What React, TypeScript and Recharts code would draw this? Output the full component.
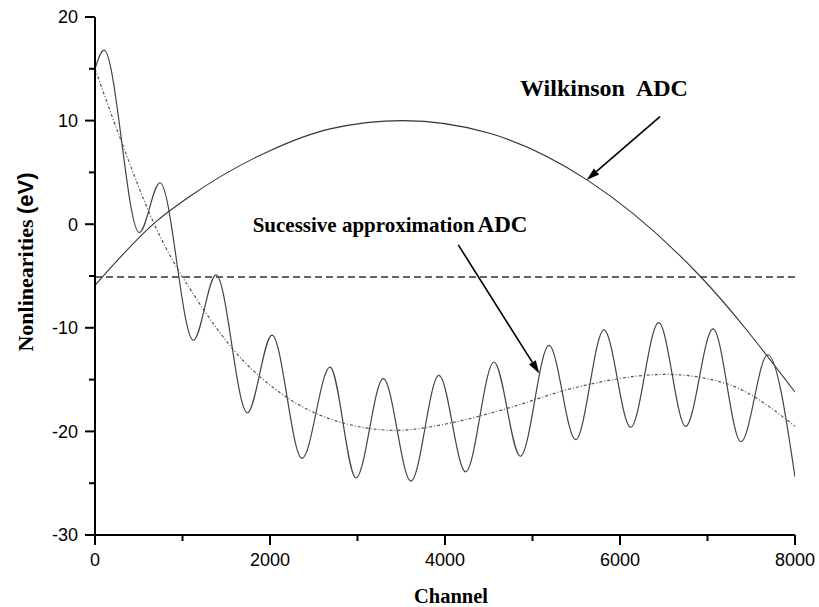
import { LineChart, Line, XAxis, YAxis, ReferenceLine, ReferenceDot } from "recharts";

// Oscillating successive-approximation ADC curve (read at its peaks and troughs)
const oscChannel = [0, 103, 506, 743, 1124, 1383, 1741, 2023, 2366, 2686, 2983, 3295, 3611, 3931, 4236, 4560, 4861, 5189, 5493, 5817, 6122, 6442, 6751, 7063, 7383, 7688, 8000];
const oscValue = [15.0, 16.8, -0.8, 4.0, -11.2, -4.9, -18.2, -10.7, -22.6, -13.8, -24.5, -14.9, -24.8, -14.6, -23.9, -13.3, -22.4, -11.7, -20.8, -10.2, -19.6, -9.5, -19.5, -10.1, -21.0, -12.6, -24.4];

// Dotted trend of the successive approximation ADC
const trendChannel = [0, 305, 667, 1238, 1581, 2190, 2686, 3448, 4057, 4743, 5429, 6533, 7219, 8000];
const trendValue = [15.0, 7.9, 0.2, -8.2, -12.1, -16.7, -18.8, -19.9, -19.2, -17.7, -15.9, -14.5, -15.4, -19.5];

// Wilkinson ADC
const wilkChannel = [0, 705, 1086, 2000, 2686, 3520, 4500, 5619, 6914, 8000];
const wilkValue = [-5.9, 0.3, 2.7, 7.1, 9.2, 10.0, 8.8, 4.3, -5.0, -16.2];

// Dashed level
const levelChannel = [0, 8000];
const levelValue = [-5.1, -5.1];

const xTicks = [0, 1000, 2000, 3000, 4000, 5000, 6000, 7000, 8000];
const yTicks = [-30, -25, -20, -15, -10, -5, 0, 5, 10, 15, 20];

const toPoints = (xs: number[], ys: number[]) => xs.map((x, i) => ({ x, y: ys[i] }));

const oscData = toPoints(oscChannel, oscValue);
const trendData = toPoints(trendChannel, trendValue);
const wilkData = toPoints(wilkChannel, wilkValue);
const levelData = toPoints(levelChannel, levelValue);

const sans = "'Liberation Sans', Arial, sans-serif";
const serif = "'Liberation Serif', 'Times New Roman', serif";

const YTick = ({ x, y, payload }: any) => {
  const major = payload.value % 10 === 0;
  return (
    <g>
      <line x1={x} x2={x - (major ? 10 : 6)} y1={y} y2={y} stroke="#000" strokeWidth={2} />
      {major && (
        <text x={x - 17} y={y} dy="0.36em" textAnchor="end" fontFamily={sans} fontSize={18} fill="#000">
          {payload.value}
        </text>
      )}
    </g>
  );
};

const XTick = ({ x, y, payload }: any) => {
  const major = payload.value % 2000 === 0;
  return (
    <g>
      <line x1={x} x2={x} y1={y} y2={y + (major ? 10 : 6)} stroke="#000" strokeWidth={2} />
      {major && (
        <text x={x} y={y + 31} textAnchor="middle" fontFamily={sans} fontSize={18} fill="#000">
          {payload.value}
        </text>
      )}
    </g>
  );
};

const Arrow = (p: any) => {
  const { x1, y1, x2, y2 } = p;
  const a = Math.atan2(y2 - y1, x2 - x1);
  const len = 13;
  const w = 4;
  const bx = x2 - len * Math.cos(a);
  const by = y2 - len * Math.sin(a);
  const nx = -Math.sin(a) * w;
  const ny = Math.cos(a) * w;
  return (
    <g>
      <line x1={x1} y1={y1} x2={bx} y2={by} stroke="#000" strokeWidth={1.6} />
      <polygon points={`${x2},${y2} ${bx + nx},${by + ny} ${bx - nx},${by - ny}`} fill="#000" />
    </g>
  );
};

const WilkLabel = (p: any) => (
  <text x={p.cx} y={p.cy} fontFamily={serif} fontWeight="bold" fontSize={24} fill="#000">
    Wilkinson<tspan dx={11}>ADC</tspan>
  </text>
);

const SuccLabel = (p: any) => (
  <text x={p.cx} y={p.cy} fontFamily={serif} fontWeight="bold" fontSize={21} fill="#000">
    Sucessive approximation<tspan dx={3} fontSize={23}>ADC</tspan>
  </text>
);

export default function App() {
  return (
    <div style={{ position: "fixed", left: 0, top: 0, width: 819, height: 607, background: "#fff", overflow: "hidden" }}>
      <LineChart width={819} height={607} margin={{ top: 17, right: 24, bottom: 27, left: 35 }}>
        <XAxis
          dataKey="x"
          type="number"
          domain={[0, 8000]}
          ticks={xTicks}
          interval={0}
          tickSize={0}
          tickMargin={0}
          tickLine={false}
          tick={<XTick />}
          axisLine={{ stroke: "#000", strokeWidth: 2 }}
          height={45}
          allowDataOverflow
        />
        <YAxis
          type="number"
          domain={[-30, 20]}
          ticks={yTicks}
          interval={0}
          tickSize={0}
          tickMargin={0}
          tickLine={false}
          tick={<YTick />}
          axisLine={{ stroke: "#000", strokeWidth: 2 }}
          width={60}
          allowDataOverflow
        />
        <Line data={levelData} dataKey="y" type="linear" stroke="#333" strokeWidth={1.5} strokeDasharray="7 4" dot={false} activeDot={false} isAnimationActive={false} />
        <Line data={trendData} dataKey="y" type="monotone" stroke="#555" strokeWidth={1.2} strokeDasharray="3 2 1 2" dot={false} activeDot={false} isAnimationActive={false} />
        <Line data={wilkData} dataKey="y" type="monotone" stroke="#333" strokeWidth={1.1} dot={false} activeDot={false} isAnimationActive={false} />
        <Line data={oscData} dataKey="y" type="monotone" stroke="#444" strokeWidth={1.2} dot={false} activeDot={false} isAnimationActive={false} />
        <ReferenceLine segment={[{ x: 6457, y: 10.38 }, { x: 5619, y: 4.27 }]} shape={Arrow} ifOverflow="visible" />
        <ReferenceLine segment={[{ x: 4152, y: -2.0 }, { x: 5078, y: -14.4 }]} shape={Arrow} ifOverflow="visible" />
        <ReferenceDot x={4857} y={12.37} shape={WilkLabel} ifOverflow="visible" />
        <ReferenceDot x={1802} y={-0.78} shape={SuccLabel} ifOverflow="visible" />
      </LineChart>
      <svg width={819} height={607} style={{ position: "absolute", left: 0, top: 0, pointerEvents: "none" }}>
        <text x={451} y={603} textAnchor="middle" fontFamily={serif} fontWeight="bold" fontSize={20.5} fill="#000">
          Channel
        </text>
        <text transform="translate(33,262) rotate(-90)" textAnchor="middle" fontWeight="bold" fontSize={22} fill="#000">
          <tspan fontFamily={serif}>Nonlinearities </tspan>
          <tspan fontFamily={sans}>(eV)</tspan>
        </text>
      </svg>
    </div>
  );
}
